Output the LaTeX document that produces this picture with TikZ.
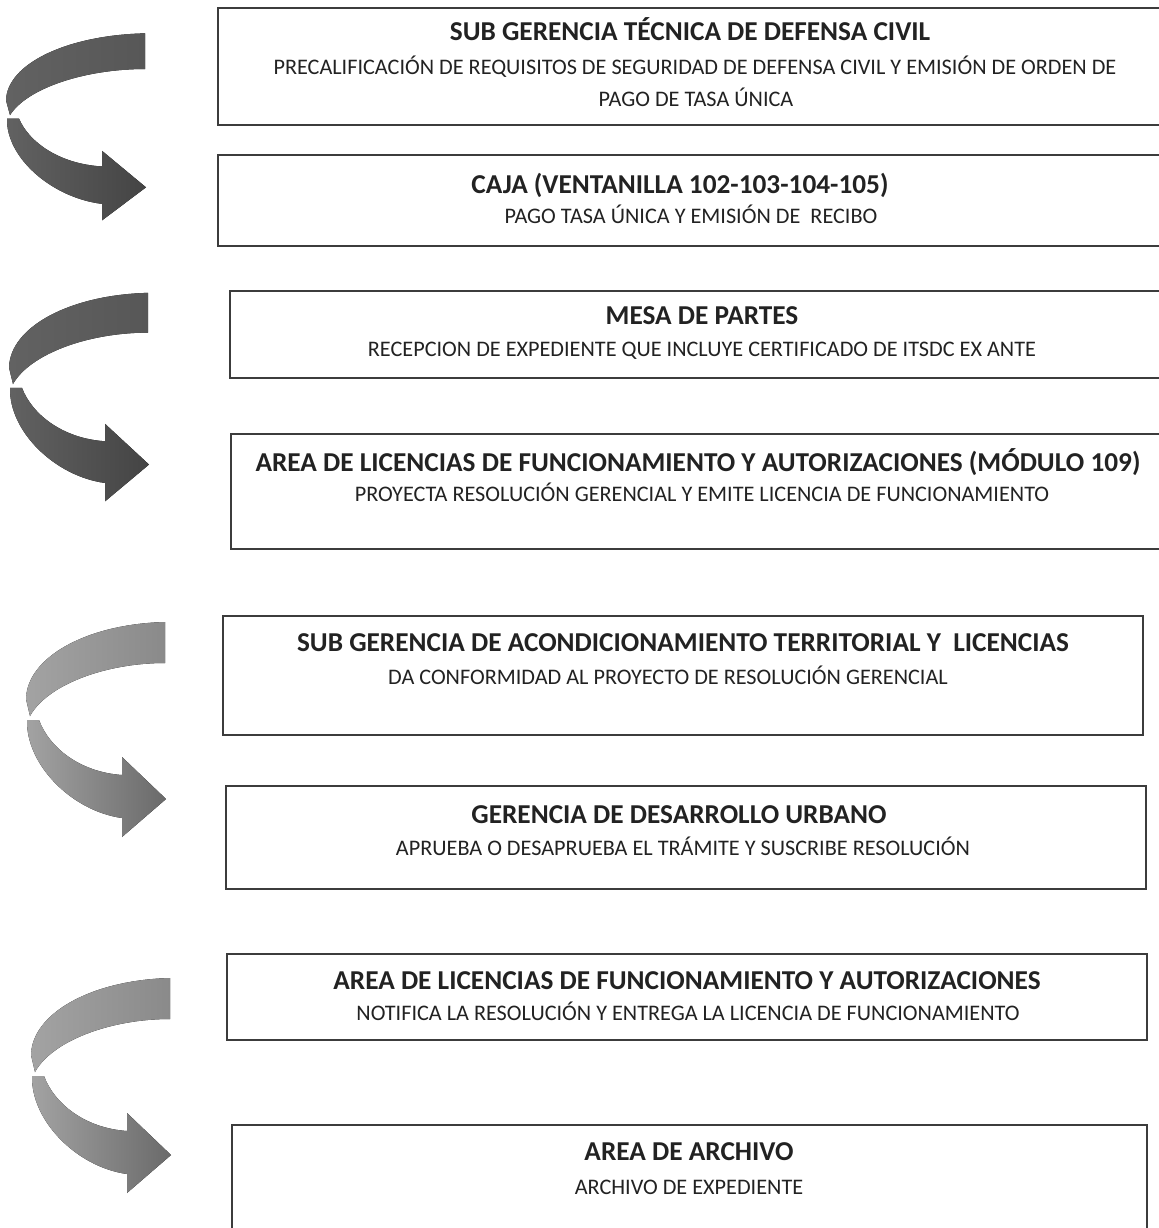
\documentclass[tikz,border=0pt]{standalone}
\usepackage{fontspec}
\setmainfont{Carlito}
\usepackage{xcolor}
\usepackage{tikz}

\definecolor{linegray}{HTML}{3C3C3C}
\definecolor{inkgray}{HTML}{222222}
\definecolor{darkTop}{HTML}{575757}
\definecolor{darkLeft}{HTML}{626262}
\definecolor{darkRight}{HTML}{444444}
\definecolor{lightTop}{HTML}{8A8A8A}
\definecolor{lightLeft}{HTML}{A3A3A3}
\definecolor{lightRight}{HTML}{6A6A6A}

\begin{document}
\begin{tikzpicture}[x=1bp, y=-1bp]
        \tikzstyle{BoxStyle} = [draw=linegray, line width=1.4bp]
        \tikzstyle{TitleStyle} = [anchor=base, inner sep=0pt, text=inkgray, font=\fontsize{27.4}{31}\selectfont\bfseries]
        \tikzstyle{TextStyle} = [anchor=base, inner sep=0pt, text=inkgray, font=\fontsize{22.3}{26}\selectfont]
        \useasboundingbox (0,0) rectangle (1159,1228);
        \clip (0,0) rectangle (1159,1228);
        \fill[white] (0,0) rectangle (1159,1228);

        \foreach \ox/\oy/\ys/\ctop/\cleft/\cright in {7/116/0.87/darkTop/darkLeft/darkRight, 10/385/0.97/darkTop/darkLeft/darkRight, 27/717/1/lightTop/lightLeft/lightRight, 32/1073/1/lightTop/lightLeft/lightRight}{
            \begin{scope}[shift={(\ox,\oy)}, yscale=\ys]
                \fill[left color=\cleft, right color=\ctop] (138,-95) .. controls (60,-93) and (0,-60) .. (-1,-18) -- (3,-1) .. controls (20,-32) and (78,-54) .. (138,-54) -- cycle;
                \fill[left color=\cleft, right color=\cright] (0,3) .. controls (-1,48) and (45,94) .. (95,101) -- (95,120) -- (139,82) -- (95,40) -- (95,58) .. controls (52,55) and (22,30) .. (12,3) -- cycle;
            \end{scope}
        }

        \draw[BoxStyle] (218,8) rectangle (1175,125);
        \draw[BoxStyle] (218,155) rectangle (1175,246);
        \draw[BoxStyle] (230,291) rectangle (1175,378);
        \draw[BoxStyle] (231,434) rectangle (1175,549);
        \draw[BoxStyle] (223,616) rectangle (1143,735);
        \draw[BoxStyle] (226,786) rectangle (1146,889);
        \draw[BoxStyle] (227,954) rectangle (1147,1040);
        \draw[BoxStyle] (232,1125) rectangle (1147,1240);

        \node[TitleStyle] (defensa) at (690,40) {SUB GERENCIA TÉCNICA DE DEFENSA CIVIL};
        \node[TextStyle] (defensaA) at (695,74.6) {PRECALIFICACIÓN DE REQUISITOS DE SEGURIDAD DE DEFENSA CIVIL Y EMISIÓN DE ORDEN DE};
        \node[TextStyle] (defensaB) at (696,106.6) {PAGO DE TASA ÚNICA};

        \node[TitleStyle] (caja) at (680,193) {CAJA (VENTANILLA 102-103-104-105)};
        \node[TextStyle] (cajaA) at (691,223.6) {PAGO TASA ÚNICA Y EMISIÓN DE\ \ RECIBO};

        \node[TitleStyle] (mesa) at (702,324) {MESA DE PARTES};
        \node[TextStyle] (mesaA) at (702,356.6) {RECEPCION DE EXPEDIENTE QUE INCLUYE CERTIFICADO DE ITSDC EX ANTE};

        \node[TitleStyle] (modulo) at (698,471) {AREA DE LICENCIAS DE FUNCIONAMIENTO Y AUTORIZACIONES (MÓDULO 109)};
        \node[TextStyle] (moduloA) at (702,501.6) {PROYECTA RESOLUCIÓN GERENCIAL Y EMITE LICENCIA DE FUNCIONAMIENTO};

        \node[TitleStyle] (acond) at (683,651) {SUB GERENCIA DE ACONDICIONAMIENTO TERRITORIAL Y\ \ LICENCIAS};
        \node[TextStyle] (acondA) at (668,684.6) {DA CONFORMIDAD AL PROYECTO DE RESOLUCIÓN GERENCIAL};

        \node[TitleStyle] (urbano) at (679,823) {GERENCIA DE DESARROLLO URBANO};
        \node[TextStyle] (urbanoA) at (683,855.6) {APRUEBA O DESAPRUEBA EL TRÁMITE Y SUSCRIBE RESOLUCIÓN};

        \node[TitleStyle] (autoriz) at (687,989) {AREA DE LICENCIAS DE FUNCIONAMIENTO Y AUTORIZACIONES};
        \node[TextStyle] (autorizA) at (688,1020.6) {NOTIFICA LA RESOLUCIÓN Y ENTREGA LA LICENCIA DE FUNCIONAMIENTO};

        \node[TitleStyle] (archivo) at (689,1160) {AREA DE ARCHIVO};
        \node[TextStyle] (archivoA) at (689,1194.6) {ARCHIVO DE EXPEDIENTE};
    \end{tikzpicture}
\end{document}
